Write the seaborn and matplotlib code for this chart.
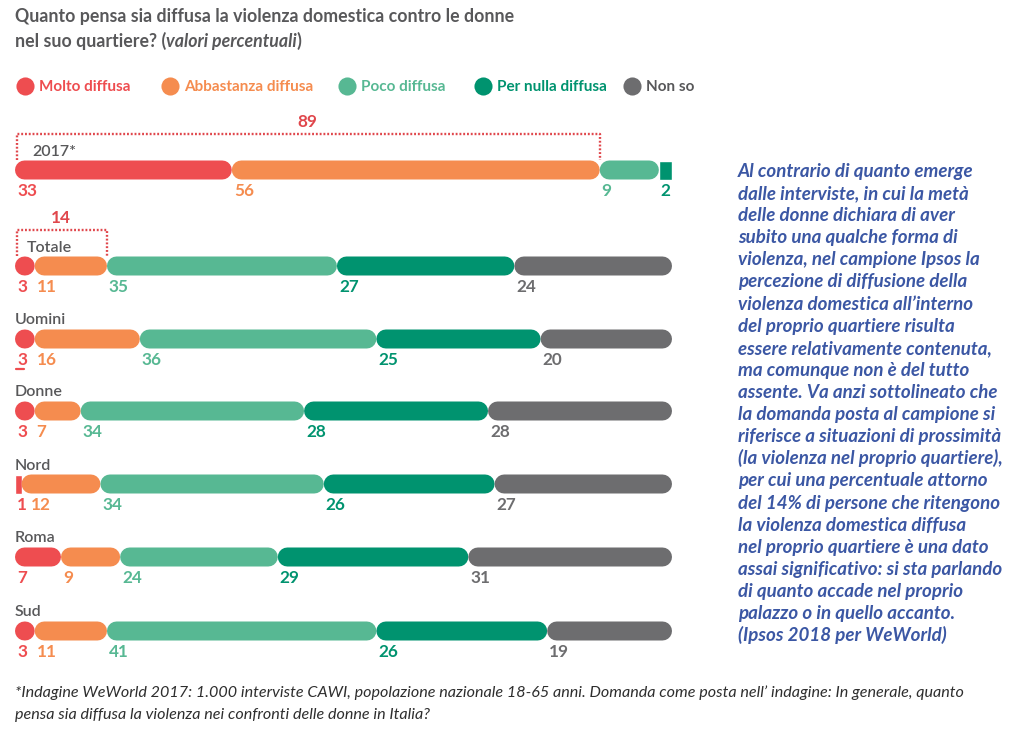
import matplotlib.pyplot as plt
import seaborn as sns

sns.set_theme(style="white")
plt.rcParams['font.family'] = ['Lato', 'DejaVu Sans']

# Data
categories = ["Molto diffusa", "Abbastanza diffusa", "Poco diffusa", "Per nulla diffusa", "Non so"]
colors = ["#EE4D50", "#F58C4F", "#57B893", "#00936F", "#6D6D6F"]
legend_text_colors = ["#EE4D50", "#F58C4F", "#57B893", "#00936F", "#58585A"]

rows = ["2017*", "Totale", "Uomini", "Donne", "Nord", "Roma", "Sud"]
v_2017 = [33, 56, 9, 2, 0]
v_totale = [3, 11, 35, 27, 24]
v_uomini = [3, 16, 36, 25, 20]
v_donne = [3, 7, 34, 28, 28]
v_nord = [1, 12, 34, 26, 27]
v_roma = [7, 9, 24, 29, 31]
v_sud = [3, 11, 41, 26, 19]
all_values = [v_2017, v_totale, v_uomini, v_donne, v_nord, v_roma, v_sud]
bracket_rows = ["2017*", "Totale"]  # bracket over first two categories

title_1 = "Quanto pensa sia diffusa la violenza domestica contro le donne"
title_2 = ["nel suo quartiere? (", "valori percentuali", ")"]

side_text = [
    "Al contrario di quanto emerge",
    "dalle interviste, in cui la metà",
    "delle donne dichiara di aver",
    "subito una qualche forma di",
    "violenza, nel campione Ipsos la",
    "percezione di diffusione della",
    "violenza domestica all’interno",
    "del proprio quartiere risulta",
    "essere relativamente contenuta,",
    "ma comunque non è del tutto",
    "assente. Va anzi sottolineato che",
    "la domanda posta al campione si",
    "riferisce a situazioni di prossimità",
    "(la violenza nel proprio quartiere),",
    "per cui una percentuale attorno",
    "del 14% di persone che ritengono",
    "la violenza domestica diffusa",
    "nel proprio quartiere è una dato",
    "assai significativo: si sta parlando",
    "di quanto accade nel proprio",
    "palazzo o in quello accanto.",
    "(Ipsos 2018 per WeWorld)",
]
footnote = [
    "*Indagine WeWorld 2017: 1.000 interviste CAWI, popolazione nazionale 18-65 anni. "
    "Domanda come posta nell’ indagine: In generale, quanto",
    "pensa sia diffusa la violenza nei confronti delle donne in Italia?",
]

# Layout (pixels)
W, H = 1024, 736
bar_left, bar_width = 15, 657
row_y = [170, 266, 339, 411, 484, 557, 631]
legend_x = [25, 170, 347, 483, 632]
bar_h = 19
unit = bar_width / 100

fig = plt.figure(figsize=(W / 100, H / 100), dpi=100)
fig.patch.set_facecolor("white")
renderer = fig.canvas.get_renderer()

# overlay axes in pixel coordinates for text elements
ov = fig.add_axes([0, 0, 1, 1])
ov.set_xlim(0, W)
ov.set_ylim(H, 0)
ov.axis("off")

# bar axes: x in percent
ax = fig.add_axes([bar_left / W, 0, bar_width / W, 1])
ax.set_xlim(0, 100)
ax.set_ylim(H, 0)
ax.axis("off")
ax.patch.set_alpha(0)

lw_pt = bar_h * 72 / 100
red_dot = "#E0474C"
label_gray = "#58585A"

for name, vals, yc in zip(rows, all_values, row_y):
    left = 0
    prev_end = -10
    for k, v in enumerate(vals):
        if v == 0:
            continue
        if v * unit >= bar_h * 0.95:
            r = bar_h / 2 / unit
            ax.plot([left + r, left + v - r], [yc, yc], color=colors[k], lw=lw_pt,
                    solid_capstyle="round", snap=False, zorder=2 + k * 0.01)
        else:
            ax.barh(yc, v, left=left, height=bar_h, color=colors[k], zorder=2)
        lx = max(left + 0.3, prev_end + 0.6)
        t = ax.text(lx, yc + 26, str(v), color=colors[k], fontsize=12.3,
                    fontweight="bold", ha="left", va="baseline")
        prev_end = lx + t.get_window_extent(renderer).width / unit
        left += v

    if name in bracket_rows:
        tot = vals[0] + vals[1]
        top, bot = yc - 36, yc - 10
        ax.plot([0.3, 0.3, tot, tot], [bot, top, top, bot], color=red_dot, lw=1.7,
                ls=(0, (0.8, 0.8)))
        ax.text(tot / 2, yc - 43, str(tot), color=red_dot, fontsize=12.3,
                fontweight="bold", ha="center", va="baseline")
        ax.text(2.7 if name == "2017*" else 1.8, yc - 14.5, name, color=label_gray,
                fontsize=11.5, fontweight="semibold", ha="left", va="baseline")
    else:
        ax.text(0, yc - 14.5, name, color=label_gray, fontsize=11.5,
                fontweight="semibold", ha="left", va="baseline")

# odd little underline under the Uomini "3"
ax.plot([0.2, 1.4], [369, 369], color=colors[0], lw=1.6)

# Title
ov.text(15, 22, title_1, color=label_gray, fontsize=12.75, fontweight="bold",
        ha="left", va="baseline")
x = 15
for i, part in enumerate(title_2):
    t = ov.text(x, 47, part, color=label_gray, fontsize=12.75, fontweight="bold",
                style="italic" if i == 1 else "normal", ha="left", va="baseline")
    x += t.get_window_extent(renderer).width - (1 if i == 1 else 0)

# Legend
for cat, c, tc, cx in zip(categories, colors, legend_text_colors, legend_x):
    ov.scatter([cx], [86], s=170, color=c, linewidths=0)
    ov.text(cx + 14, 91, cat, color=tc, fontsize=11, fontweight="bold",
            ha="left", va="baseline")

# Side text
for i, line in enumerate(side_text):
    ov.text(738, 177 + i * 22.1, line, color="#3B57A4", fontsize=13.5,
            fontweight="bold", style="italic", ha="left", va="baseline")

# Footnote
for i, line in enumerate(footnote):
    ov.text(15, 697 + i * 22, line, color="#2E2E2E", fontsize=11.6,
            style="italic", ha="left", va="baseline")

fig.savefig("out.png", dpi=100, facecolor="white")
